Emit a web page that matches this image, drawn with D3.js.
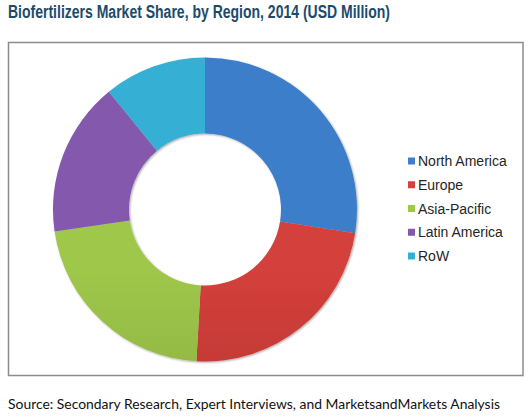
<!DOCTYPE html>
<html><head><meta charset="utf-8">
<script src="https://cdn.jsdelivr.net/npm/d3@7"></script>
<style>body{margin:0;background:#fff}svg{display:block}</style>
</head><body>
<svg id="c" width="530" height="419"></svg>
<script>
const title = "Biofertilizers Market Share, by Region, 2014 (USD Million)";
const source = "Source: Secondary Research, Expert Interviews, and MarketsandMarkets Analysis";
const categories = ["North America", "Europe", "Asia-Pacific", "Latin America", "RoW"];
const values = [27.5, 23.4, 21.8, 16.4, 10.9];
const colorsTop = ["#3e7ecb", "#d4403b", "#9fc74a", "#8358ad", "#35b0d4"];
const colorsBottom = ["#2f5e9b", "#a32d2a", "#7c9e38", "#5d3d80", "#2a8aaa"];

const svg = d3.select("#c");
const defs = svg.append("defs");

// box
svg.append("rect").attr("x", 8.5).attr("y", 42.5).attr("width", 514.5).attr("height", 333)
  .attr("fill", "none").attr("stroke", "#8c8c8c").attr("stroke-width", 1.5);

// title
svg.append("text").attr("x", 8).attr("y", 18)
  .attr("font-family", "'Liberation Sans Narrow', 'Arial Narrow', sans-serif")
  .attr("font-weight", "bold").attr("font-size", 17.5).attr("fill", "#1c4b6a")
  .attr("textLength", 382).attr("lengthAdjust", "spacingAndGlyphs")
  .text(title);

// source
svg.append("text").attr("x", 8).attr("y", 409)
  .attr("font-family", "Lato, 'Open Sans', sans-serif")
  .attr("font-size", 13.5).attr("fill", "#111")
  .attr("textLength", 492).attr("lengthAdjust", "spacingAndGlyphs")
  .text(source);

// gradients
categories.forEach((c, i) => {
  const g = defs.append("linearGradient").attr("id", "g" + i)
    .attr("gradientUnits", "userSpaceOnUse")
    .attr("x1", 0).attr("y1", 58).attr("x2", 0).attr("y2", 361);
  g.append("stop").attr("offset", "0%").attr("stop-color", colorsTop[i]);
  g.append("stop").attr("offset", "100%").attr("stop-color", colorsBottom[i]);
});
const f = defs.append("filter").attr("id", "sh").attr("x", "-10%").attr("y", "-10%").attr("width", "120%").attr("height", "120%");
f.append("feGaussianBlur").attr("in", "SourceAlpha").attr("stdDeviation", 1.2).attr("result", "b");
f.append("feOffset").attr("in", "b").attr("dx", 0.5).attr("dy", 1).attr("result", "o");
f.append("feComponentTransfer").attr("in", "o").attr("result", "o2")
  .append("feFuncA").attr("type", "linear").attr("slope", 0.35);
const fm = f.append("feMerge");
fm.append("feMergeNode").attr("in", "o2");
fm.append("feMergeNode").attr("in", "SourceGraphic");

const cx = 205, cy = 209.5, R = 152, r = 76;
const pie = d3.pie().sort(null).value(d => d)(values);
const arc = d3.arc().innerRadius(r).outerRadius(R);
svg.append("g").attr("transform", `translate(${cx},${cy})`).attr("filter", "url(#sh)")
  .selectAll("path").data(pie).join("path")
  .attr("d", arc)
  .attr("fill", (d, i) => `url(#g${i})`);

// legend
const ly = d3.scalePoint().domain(categories).range([161, 256]);
const lg = svg.append("g");
categories.forEach((c, i) => {
  lg.append("rect").attr("x", 408).attr("y", ly(c) - 3.5).attr("width", 7).attr("height", 7)
    .attr("fill", colorsTop[i]);
  lg.append("text").attr("x", 418).attr("y", ly(c) + 5)
    .attr("font-family", "'Liberation Sans', Arial, sans-serif").attr("font-size", 14)
    .attr("fill", "#262626").text(c);
});
</script>
</body></html>
